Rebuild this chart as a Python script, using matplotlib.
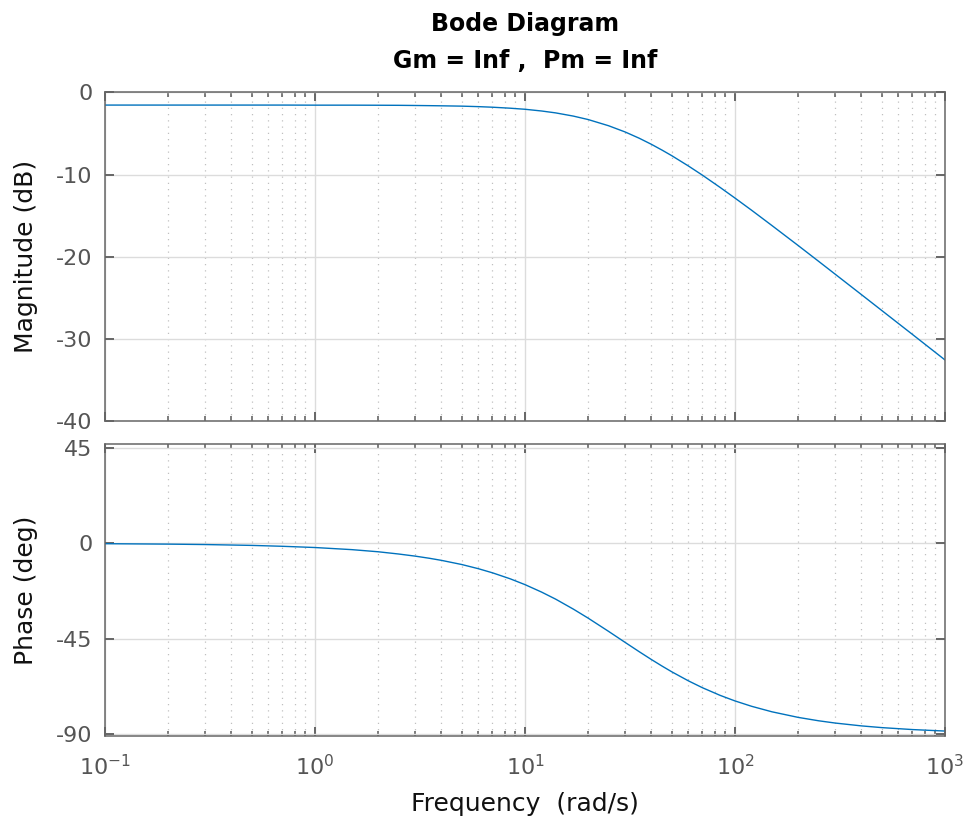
import matplotlib
matplotlib.use("Agg")
import matplotlib.pyplot as plt
from matplotlib.ticker import LogLocator, NullFormatter, FixedLocator, FuncFormatter

# --- datos ---
frecuencia = [0.1, 0.2, 0.3, 0.5, 0.7, 1, 1.5, 2, 2.5, 3, 3.5, 4, 5, 6, 7, 8.5, 10, 12,
              14, 17, 20, 25, 30, 35, 40, 45, 50, 60, 70, 85, 100, 120, 150, 200, 250,
              300, 400, 500, 700, 1000]
magnitud_db = [-1.55, -1.55, -1.55, -1.55, -1.55, -1.56, -1.56, -1.57, -1.58, -1.60,
               -1.62, -1.64, -1.68, -1.74, -1.81, -1.93, -2.06, -2.27, -2.50, -2.89,
               -3.31, -4.06, -4.82, -5.58, -6.32, -7.03, -7.70, -8.95, -10.07, -11.56,
               -12.85, -14.33, -16.19, -18.62, -20.53, -22.10, -24.58, -26.51, -29.42,
               -32.52]
fase_deg = [-0.2, -0.4, -0.6, -1.0, -1.42, -2.0, -3.0, -4.0, -5.05, -6.05,
            -7.05, -8.04, -10.0, -11.97, -13.9, -16.72, -19.46, -22.98, -26.3, -31.0,
            -35.25, -41.46, -46.67, -51.04, -54.72, -57.83, -60.49, -64.75, -67.99, -71.59,
            -74.2, -76.73, -79.32, -81.95, -83.54, -84.61, -85.95, -86.76, -87.68,
            -88.38]

ticks_mag = [-40, -30, -20, -10, 0]
ticks_fase = [-90, -45, 0, 45]

azul = "#0072BD"
gris = "#666666"
gris_txt = "#555555"

plt.rcParams['font.family'] = ['DejaVu Sans']
plt.rcParams['mathtext.fontset'] = 'dejavusans'
plt.rcParams['axes.unicode_minus'] = False


def etiqueta_log(v, pos):
    e = int(round(__import__("math").log10(v)))
    return "10$^{\\mathregular{%d}}$" % e


fig = plt.figure(figsize=(9.73, 8.25), dpi=100)
ax1 = fig.add_axes([0.1079, 0.4891, 0.8633, 0.3990])
ax2 = fig.add_axes([0.1079, 0.1079, 0.8633, 0.3536])

ax1.semilogx(frecuencia, magnitud_db, color=azul, lw=1.0)
ax2.semilogx(frecuencia, fase_deg, color=azul, lw=1.0)

ax1.set_ylim(-40, 0)
ax2.set_ylim(-90.7, 46.6)
ax1.yaxis.set_major_locator(FixedLocator(ticks_mag))
ax2.yaxis.set_major_locator(FixedLocator(ticks_fase))

for ax in (ax1, ax2):
    ax.set_xlim(0.1, 1000)
    ax.xaxis.set_major_locator(LogLocator(base=10, numticks=10))
    ax.xaxis.set_minor_locator(LogLocator(base=10, subs=range(2, 10), numticks=20))
    ax.xaxis.set_major_formatter(FuncFormatter(etiqueta_log))
    ax.xaxis.set_minor_formatter(NullFormatter())
    ax.grid(True, which="major", color="#dcdcdc", lw=1.0, ls="-")
    ax.grid(True, which="minor", axis="x", color="#c0c0c0", lw=0.9, ls=(0, (1, 4)))
    ax.set_axisbelow(True)
    for s in ax.spines.values():
        s.set_color(gris)
        s.set_linewidth(1.1)
    ax.tick_params(which="both", direction="in", top=True, right=True,
                   color=gris, labelcolor=gris_txt, labelsize=16)
    ax.tick_params(which="major", length=6.5, width=1.4)
    ax.tick_params(which="minor", length=3.5, width=1.2)
    ax.tick_params(axis="y", pad=9)
    ax.tick_params(axis="x", pad=13)

ax1.tick_params(labelbottom=False)

ax1.set_ylabel("Magnitude (dB)", fontsize=18, color="#111111")
ax2.set_ylabel("Phase (deg)", fontsize=18, color="#111111")
ax2.set_xlabel("Frequency  (rad/s)", fontsize=18, color="#111111", labelpad=9)
ax1.yaxis.set_label_coords(-0.08, 0.5)
ax2.yaxis.set_label_coords(-0.08, 0.5)

fig.text(0.5396, 0.9715, "Bode Diagram", ha="center", va="center",
         fontsize=17, fontweight="bold", color="black")
fig.text(0.5396, 0.926, "Gm = Inf ,  Pm = Inf", ha="center", va="center",
         fontsize=17, fontweight="bold", color="black")

fig.savefig("out.png", dpi=100)
